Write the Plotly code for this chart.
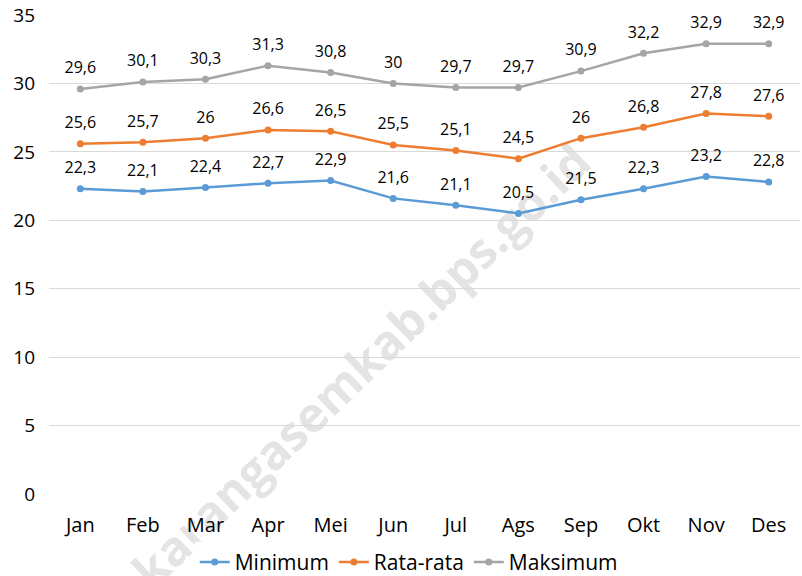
import plotly.graph_objects as go

months = ["Jan", "Feb", "Mar", "Apr", "Mei", "Jun", "Jul", "Ags", "Sep", "Okt", "Nov", "Des"]
minimum = [22.3, 22.1, 22.4, 22.7, 22.9, 21.6, 21.1, 20.5, 21.5, 22.3, 23.2, 22.8]
rata = [25.6, 25.7, 26.0, 26.6, 26.5, 25.5, 25.1, 24.5, 26.0, 26.8, 27.8, 27.6]
maksimum = [29.6, 30.1, 30.3, 31.3, 30.8, 30.0, 29.7, 29.7, 30.9, 32.2, 32.9, 32.9]
y_ticks = [0, 5, 10, 15, 20, 25, 30, 35]

FONT = "Open Sans, Noto Sans, sans-serif"

def fmt(v):
    s = ("%g" % v)
    return s.replace(".", ",")

fig = go.Figure()
series = [("Minimum", minimum, "#5B9BD5"),
          ("Rata-rata", rata, "#ED7D31"),
          ("Maksimum", maksimum, "#A5A5A5")]
for name, vals, color in series:
    fig.add_trace(go.Scatter(
        x=months, y=vals, name=name, mode="lines+markers",
        line=dict(color=color, width=2.5),
        marker=dict(color=color, size=7),
        cliponaxis=False,
    ))
for name, vals, color in series:
    fig.add_trace(go.Scatter(
        x=months, y=vals, mode="markers+text", showlegend=False, hoverinfo="skip",
        marker=dict(size=17, opacity=0),
        text=[fmt(v) for v in vals], textposition="top center",
        textfont=dict(size=16, color="#000000", family=FONT),
        cliponaxis=False,
    ))

fig.add_shape(
    type="rect", xref="paper", yref="paper",
    x0=0.415, x1=0.42, y0=0.262, y1=0.267,
    line=dict(width=0), fillcolor="rgba(0,0,0,0)", layer="below",
    label=dict(text="karangasemkab.bps.go.id", textangle=-44,
               textposition="middle center",
               font=dict(size=48, color="#E4E4E4", family="Open Sans, sans-serif", weight="bold")),
)

fig.update_layout(
    width=802, height=576,
    margin=dict(l=49, r=2, t=15, b=82, autoexpand=False),
    paper_bgcolor="white", plot_bgcolor="rgba(0,0,0,0)",
    font=dict(family=FONT, size=17, color="#000000"),
    showlegend=True,
    legend=dict(orientation="h", x=0.479, xanchor="center", y=-0.1, yanchor="top",
                font=dict(size=21), itemwidth=30, traceorder="normal"),
    xaxis=dict(type="category", showgrid=False, showline=False, ticks="",
               tickfont=dict(size=20), range=[-0.5, 11.5], automargin=False,
               ticklabelstandoff=17),
    yaxis=dict(range=[0, 35], tickvals=y_ticks, showgrid=True, gridcolor="#D9D9D9",
               gridwidth=1, zeroline=False, showline=False, ticks="",
               tickfont=dict(size=19), ticklabelstandoff=13, automargin=False),
)

fig.write_html(
    "out.html",
    config={"displayModeBar": False},
    post_script="document.body.style.margin='0';document.body.style.overflow='hidden';",
)
